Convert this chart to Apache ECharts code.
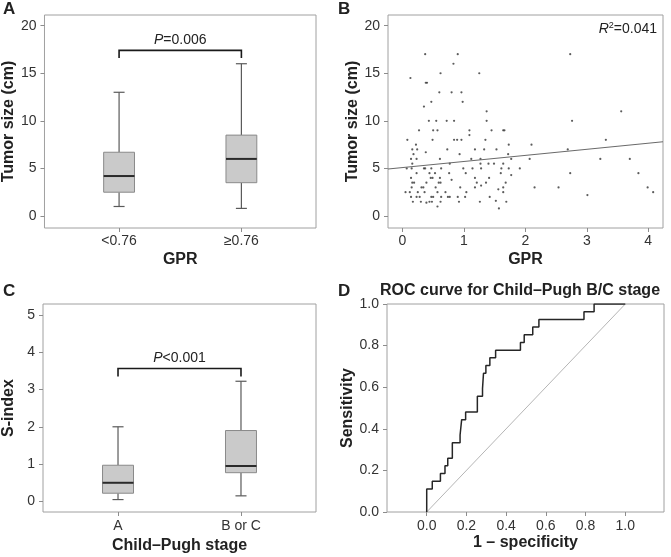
<!DOCTYPE html>
<html><head><meta charset="utf-8">
<script src="https://cdn.jsdelivr.net/npm/echarts@6/dist/echarts.min.js"></script>
<style>html,body{margin:0;padding:0;background:#fff}#c{width:671px;height:557px}</style>
</head><body><div id="c"></div>
<script>
// ---------- DATA ----------
const gprGroups = ['<0.76', '≥0.76'];
// [low whisker, Q1, median, Q3, high whisker]
const tumorBoxes = [[1.0, 2.5, 4.2, 6.7, 13.0], [0.8, 3.5, 6.0, 8.5, 16.0]];
const tumorP = ['P', '=0.006'];
const tumorBracket = [1, 2, 17.4, 16.6];

const childGroups = ['A', 'B or C'];
const sIndexBoxes = [[0.05, 0.22, 0.5, 0.97, 2.0], [0.15, 0.77, 0.95, 1.9, 3.22]];
const sIndexP = ['P', '<0.001'];
const sIndexBracket = [1, 2, 3.56, 3.35];

const gprTumor = [
 [0.37,17],[0.90,17],[2.73,17],[0.83,16],[0.62,15],[1.25,15],[0.13,14.5],[0.38,14],[0.40,14],
 [0.60,13],[0.80,13],[0.96,13],[0.98,12],[0.47,12],[0.35,11.5],[1.37,11],[3.56,11],
 [0.43,10],[0.55,10],[0.72,10],[0.84,10],[1.37,10],[2.76,10],
 [0.27,9],[0.50,9],[0.57,9],[1.09,9],[1.45,9],[1.64,9],[1.66,9],[1.09,8.5],
 [0.08,8],[0.49,8],[0.84,8],[0.89,8],[0.96,8],[1.35,8],[3.31,8],
 [0.22,7.5],[1.73,7.5],[2.10,7.5],
 [0.16,7],[0.24,7],[0.38,6.7],[0.73,7],[1.18,7],[1.33,7],[1.53,7],[2.69,7],
 [0.18,6.5],[0.93,6.5],[1.72,6.5],
 [0.14,6],[0.23,6],[0.61,6],[1.12,6],[1.27,6],[1.77,6],[2.07,6],[3.22,6],[3.70,6],
 [0.16,5.5],[0.77,5.5],[1.27,5.5],[1.40,5.5],[1.49,5.5],[1.64,5.5],[1.91,5],
 [0.07,5],[0.15,5],[0.35,5],[0.37,5],[0.47,5],[0.63,5],[0.99,5],[1.14,5],[1.28,5],[1.61,5],[1.73,5],
 [0.23,4.5],[0.44,4.5],[0.53,4.5],[0.76,4.5],[1.03,4.5],[1.60,4.5],[1.77,4.3],[2.73,4.5],[3.84,4.5],
 [0.14,4],[0.46,4],[0.49,4],[0.61,4],[0.80,3.8],[1.18,4],[1.41,4],
 [0.16,3.5],[0.19,3.5],[0.39,3.5],[0.59,3.5],[0.62,3.5],[0.94,3],[1.21,3.5],[1.36,3.5],[1.68,3.5],
 [0.15,3],[0.31,3],[0.34,3],[0.54,3],[1.18,3],[1.56,2.8],[1.64,3],[2.15,3],[2.54,3],[3.99,3],
 [0.05,2.5],[0.12,2.5],[0.25,2.5],[0.36,2.5],[0.57,2.5],[0.70,2.5],[1.04,2.5],[1.28,3.2],[1.64,2.5],[4.08,2.5],
 [0.14,2],[0.23,2],[0.28,2],[0.47,2],[0.50,2],[0.63,2],[0.74,2],[0.77,2],[0.90,2],[1.02,2],[1.42,2],[3.01,2.2],
 [0.17,1.5],[0.30,1.5],[0.39,1.4],[0.44,1.5],[0.48,1.5],[0.62,1.5],[0.92,1.5],[1.26,1.5],[1.52,1.6],[1.69,1.5],
 [0.57,1],[1.57,0.8]
];
const fitIntercept = 5.09;
const fitSlope = 0.64;
const r2Text = '=0.041';

const rocFpr = [0,0,0.028,0.028,0.069,0.069,0.092,0.092,0.106,0.106,0.129,0.129,0.168,0.168,0.176,0.176,0.196,0.196,0.255,0.255,0.281,0.281,0.286,0.286,0.298,0.298,0.318,0.318,0.347,0.347,0.472,0.472,0.491,0.491,0.534,0.534,0.565,0.565,0.792,0.792,0.843,0.843,1.0];
const rocTpr = [0,0.111,0.111,0.148,0.148,0.185,0.185,0.222,0.222,0.259,0.259,0.333,0.333,0.370,0.370,0.444,0.444,0.481,0.481,0.556,0.556,0.593,0.593,0.667,0.667,0.704,0.704,0.741,0.741,0.778,0.778,0.815,0.815,0.852,0.852,0.889,0.889,0.926,0.926,0.963,0.963,1.0,1.0];
const refLine = [[0,0],[1,1]];

const tumorTicks = [0,5,10,15,20];
const gprTicks = [0,1,2,3,4];
const sIndexTicks = [0,1,2,3,4,5];
const rocTicks = [0,0.2,0.4,0.6,0.8,1.0];

// ---------- CHART ----------
const FONT = '"Liberation Sans", Arial, Helvetica, sans-serif';
const TXT = '#222';
const chart = echarts.init(document.getElementById('c'), null, {renderer:'canvas'});

function valAxis(gridIndex, min, max, ticks, fmt, name, nameGap, labelMargin) {
  return {
    type:'value', gridIndex, min, max, name, nameLocation:'middle', nameGap,
    nameTextStyle:{fontFamily:FONT, fontWeight:'bold', fontSize:16, color:TXT},
    axisLine:{show:false, onZero:false},
    axisTick:{show:true, length:4, customValues:ticks, lineStyle:{color:'#8c8c8c'}},
    axisLabel:{show:true, customValues:ticks, formatter:fmt, margin:labelMargin,
      fontFamily:FONT, fontSize:14, color:'#333'},
    splitLine:{show:false}
  };
}
function gridBox(left, top, width, height) {
  return {left, top, width, height, show:true, borderColor:'#a0a0a0', borderWidth:1, backgroundColor:'transparent', containLabel:false};
}
function boxSeries(xi, boxes) {
  return {
    type:'custom', xAxisIndex:xi, yAxisIndex:xi, silent:true,
    data: boxes.map((b,i)=>[i+1].concat(b)),
    renderItem(params, api) {
      const x = api.value(0);
      const lo=api.value(1), q1=api.value(2), md=api.value(3), q3=api.value(4), hi=api.value(5);
      const w = api.size([0.252,0])[0], cw = api.size([0.09,0])[0];
      const P = v => api.coord([x, v]);
      const cx = P(md)[0];
      const yLo=P(lo)[1], yQ1=P(q1)[1], yMd=P(md)[1], yQ3=P(q3)[1], yHi=P(hi)[1];
      const ws = {stroke:'#5a5a5a', lineWidth:1.2};
      return {type:'group', children:[
        {type:'line', shape:{x1:cx,y1:yHi,x2:cx,y2:yQ3}, style:ws},
        {type:'line', shape:{x1:cx,y1:yQ1,x2:cx,y2:yLo}, style:ws},
        {type:'line', shape:{x1:cx-cw/2,y1:yHi,x2:cx+cw/2,y2:yHi}, style:ws},
        {type:'line', shape:{x1:cx-cw/2,y1:yLo,x2:cx+cw/2,y2:yLo}, style:ws},
        {type:'rect', shape:{x:cx-w/2,y:yQ3,width:w,height:yQ1-yQ3}, style:{fill:'#cacaca',stroke:'#8a8a8a',lineWidth:1}},
        {type:'line', shape:{x1:cx-w/2,y1:yMd,x2:cx+w/2,y2:yMd}, style:{stroke:'#2a2a2a',lineWidth:2}}
      ]};
    }
  };
}
function bracketSeries(xi, br, ptxt) {
  return {
    type:'custom', xAxisIndex:xi, yAxisIndex:xi, silent:true,
    data:[br],
    renderItem(params, api) {
      const a = api.coord([api.value(0), api.value(2)]);
      const b = api.coord([api.value(1), api.value(2)]);
      const a2 = api.coord([api.value(0), api.value(3)]);
      const b2 = api.coord([api.value(1), api.value(3)]);
      return {type:'group', children:[
        {type:'polyline', shape:{points:[a2,a,b,b2]}, style:{stroke:'#1a1a1a', lineWidth:1.6, fill:null}},
        {type:'text', x:(a[0]+b[0])/2, y:a[1]-3, style:{
          text:'{i|'+ptxt[0]+'}{n|'+ptxt[1]+'}', align:'center', verticalAlign:'bottom',
          rich:{i:{fontFamily:FONT, fontSize:14, fontStyle:'italic', fill:TXT},
                n:{fontFamily:FONT, fontSize:14, fill:TXT}}}}
      ]};
    }
  };
}

const bMin = -0.235, bMax = 4.24;
const fitData = [[bMin, fitIntercept + fitSlope*bMin], [bMax, fitIntercept + fitSlope*bMax]];
const fix1 = v => v.toFixed(1);

const option = {
  animation:false,
  backgroundColor:'#fff',
  grid:[gridBox(43,15,273,213), gridBox(388,15,275,213), gridBox(43,304,273,208), gridBox(387,304,277,208)],
  xAxis:[
    valAxis(0, 0.39, 2.61, [1,2], v=>gprGroups[Math.round(v)-1], 'GPR', 24, 6),
    valAxis(1, bMin, bMax, gprTicks, v=>String(v), 'GPR', 24, 6),
    valAxis(2, 0.39, 2.61, [1,2], v=>childGroups[Math.round(v)-1], 'Child–Pugh stage', 26, 7),
    valAxis(3, -0.2, 1.195, rocTicks, fix1, '1 – specificity', 23, 7)
  ],
  yAxis:[
    valAxis(0, -1.26, 21.12, tumorTicks, v=>String(v), 'Tumor size (cm)', 26, 8),
    valAxis(1, -1.26, 21.12, tumorTicks, v=>String(v), 'Tumor size (cm)', 26, 8),
    valAxis(2, -0.283, 5.29, sIndexTicks, v=>String(v), 'S-index', 26, 8),
    valAxis(3, 0, 1, rocTicks, fix1, 'Sensitivity', 26, 8)
  ],
  series:[
    boxSeries(0, tumorBoxes),
    bracketSeries(0, tumorBracket, tumorP),
    {type:'scatter', xAxisIndex:1, yAxisIndex:1, data:gprTumor, symbolSize:2.2, itemStyle:{color:'#333'}, silent:true},
    {type:'line', xAxisIndex:1, yAxisIndex:1, data:fitData, showSymbol:false, lineStyle:{color:'#6a6a6a', width:1.1}, silent:true},
    boxSeries(2, sIndexBoxes),
    bracketSeries(2, sIndexBracket, sIndexP),
    {type:'line', xAxisIndex:3, yAxisIndex:3, data:refLine, showSymbol:false, lineStyle:{color:'#b5b5b5', width:1}, silent:true},
    {type:'line', xAxisIndex:3, yAxisIndex:3, data:rocFpr.map((f,i)=>[f, rocTpr[i]]), showSymbol:false, lineStyle:{color:'#262626', width:1.5}, silent:true}
  ],
  graphic:[
    {type:'text', x:3, y:9, style:{text:'A', font:'bold 17px '+FONT, fill:TXT, verticalAlign:'middle'}},
    {type:'text', x:338, y:9, style:{text:'B', font:'bold 17px '+FONT, fill:TXT, verticalAlign:'middle'}},
    {type:'text', x:3, y:291, style:{text:'C', font:'bold 17px '+FONT, fill:TXT, verticalAlign:'middle'}},
    {type:'text', x:338, y:291, style:{text:'D', font:'bold 17px '+FONT, fill:TXT, verticalAlign:'middle'}},
    {type:'text', x:380, y:291, style:{text:'ROC curve for Child–Pugh B/C stage', font:'bold 16px '+FONT, fill:TXT, verticalAlign:'middle'}},
    {type:'text', x:657, y:29, style:{text:'{i|R}{s|2}{n|'+r2Text+'}', align:'right', verticalAlign:'middle',
      rich:{i:{fontFamily:FONT, fontSize:14, fontStyle:'italic', fill:TXT},
            s:{fontFamily:FONT, fontSize:9, fill:TXT, verticalAlign:'top', padding:[0,0,6,0]},
            n:{fontFamily:FONT, fontSize:14, fill:TXT}}}}
  ]
};
chart.setOption(option);
</script></body></html>
